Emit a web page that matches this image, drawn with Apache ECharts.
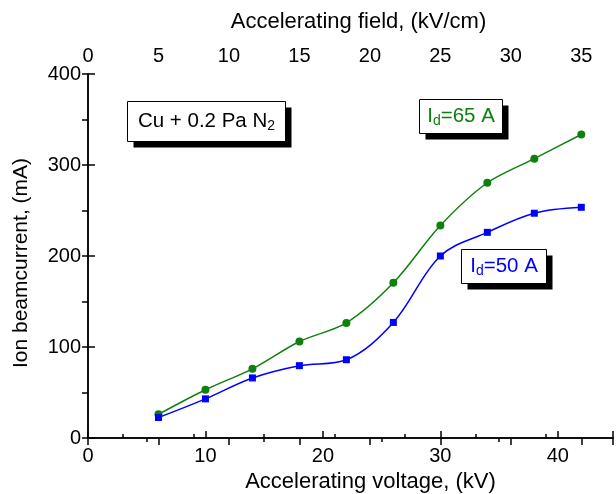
<!DOCTYPE html>
<html>
<head>
<meta charset="UTF-8">
<title>Ion beam current</title>
<style type="text/css">
    html,body{ margin:0; padding:0; background:#fff; }
    #chart{ width:616px; height:494px; }
</style>
</head>
<body>
<div id="chart"></div>
<script src="https://cdn.jsdelivr.net/npm/echarts@6/dist/echarts.min.js"></script>
<script type="text/javascript">
// accelerating voltage, kV
var voltage = [6, 10, 14, 18, 22, 26, 30, 34, 38, 42];
// ion beam current, mA
var current65 = [26, 53, 76, 106, 126.5, 170.5, 233.5, 280.5, 307, 333.5];
var current50 = [22.5, 43, 66, 79.5, 86, 127, 200, 226, 247, 253.5];

var FONT = "'Liberation Sans', Arial, sans-serif";
var GREEN = '#0d800d';
var BLUE = '#0000ff';

function pairs(ys) {
    return voltage.map(function (v, i) { return [v, ys[i]]; });
}

// framed label with a black drop shadow
function box(x, y, w, h, text, color, rich) {
    return {
        type: 'group',
        left: x, top: y,
        children: [
            { type: 'rect', shape: { x: 6, y: 6, width: w, height: h }, style: { fill: '#000' }, z: 100 },
            { type: 'rect', shape: { x: 0, y: 0, width: w, height: h }, style: { fill: '#fff', stroke: '#000', lineWidth: 1 }, z: 101 },
            {
                type: 'text', x: w / 2, y: h / 2, z: 102,
                style: {
                    text: text, align: 'center', verticalAlign: 'middle',
                    fill: color, font: '20.5px ' + FONT, rich: rich
                }
            }
        ]
    };
}

function subRich(color) {
    return {
        n: { fill: color, fontSize: 20.5, fontFamily: FONT, lineHeight: 24 },
        s: { fill: color, fontSize: 14, fontFamily: FONT, lineHeight: 12, verticalAlign: 'bottom' }
    };
}

var axisLine = { show: true, lineStyle: { color: '#000', width: 1.5 } };
var labelStyle = { color: '#000', fontSize: 20, fontFamily: FONT };
var majorTick = { inside: true, length: 7, lineStyle: { color: '#000', width: 1.5 } };
// minor ticks are drawn on the other side unless the length is flipped
var minorTick = { show: true, splitNumber: 2, length: -4, lineStyle: { color: '#000', width: 1.5 } };

var chart = echarts.init(document.getElementById('chart'));
var option = {
    animation: false,
    grid: { left: 88, right: 3, top: 74, bottom: 56, outerBoundsMode: 'none' },
    xAxis: [{
        type: 'value', position: 'bottom',
        min: 0, max: 44.7, interval: 10,
        name: 'Accelerating voltage, (kV)', nameLocation: 'middle', nameGap: 33,
        nameTextStyle: { color: '#000', fontSize: 22, fontFamily: FONT, padding: [0, 0, 0, 40] },
        axisLine: axisLine,
        axisTick: majorTick,
        minorTick: minorTick,
        axisLabel: Object.assign({ margin: 8, showMaxLabel: false }, labelStyle),
        splitLine: { show: false }
    }, {
        type: 'value', position: 'top',
        min: 0, max: 37.25, interval: 5,
        name: 'Accelerating field, (kV/cm)', nameLocation: 'middle', nameGap: 41,
        nameTextStyle: { color: '#000', fontSize: 22, fontFamily: FONT, padding: [0, 0, 0, 16] },
        axisLine: axisLine,
        axisTick: majorTick,
        minorTick: minorTick,
        axisLabel: Object.assign({ margin: 8, showMaxLabel: false }, labelStyle),
        splitLine: { show: false }
    }],
    yAxis: [{
        type: 'value', position: 'left',
        min: 0, max: 400, interval: 100,
        name: 'Ion beamcurrent, (mA)', nameLocation: 'middle', nameGap: 56,
        nameTextStyle: { color: '#000', fontSize: 21, fontFamily: FONT, padding: [0, 14, 0, 0] },
        axisLine: axisLine,
        axisTick: majorTick,
        minorTick: minorTick,
        axisLabel: Object.assign({ margin: 7 }, labelStyle),
        splitLine: { show: false }
    }, {
        type: 'value', position: 'right',
        min: 0, max: 400, interval: 100,
        axisLine: axisLine,
        axisTick: { inside: true, length: 6, lineStyle: { color: '#000', width: 1.5 } },
        minorTick: { show: true, splitNumber: 2, length: 6, lineStyle: { color: '#000', width: 1.5 } },
        axisLabel: { show: false },
        splitLine: { show: false }
    }],
    series: [{
        name: 'Id=65 A', type: 'line', xAxisIndex: 0, yAxisIndex: 0,
        data: pairs(current65), smooth: 0.3,
        symbol: 'circle', symbolSize: 8,
        lineStyle: { color: GREEN, width: 1.5 },
        itemStyle: { color: GREEN }
    }, {
        name: 'Id=50 A', type: 'line', xAxisIndex: 0, yAxisIndex: 0,
        data: pairs(current50), smooth: 0.35,
        symbol: 'rect', symbolSize: 7,
        lineStyle: { color: BLUE, width: 1.5 },
        itemStyle: { color: BLUE }
    }],
    graphic: [
        box(127, 101, 158, 40, '{n|Cu + 0.2 Pa N}{s|2}', '#000', subRich('#000')),
        box(419, 99, 83, 34, '{n|I}{s|d}{n|=65 A}', GREEN, subRich(GREEN)),
        box(461, 249, 85, 34, '{n|I}{s|d}{n|=50 A}', BLUE, subRich(BLUE))
    ]
};
chart.setOption(option);
</script>
</body>
</html>
